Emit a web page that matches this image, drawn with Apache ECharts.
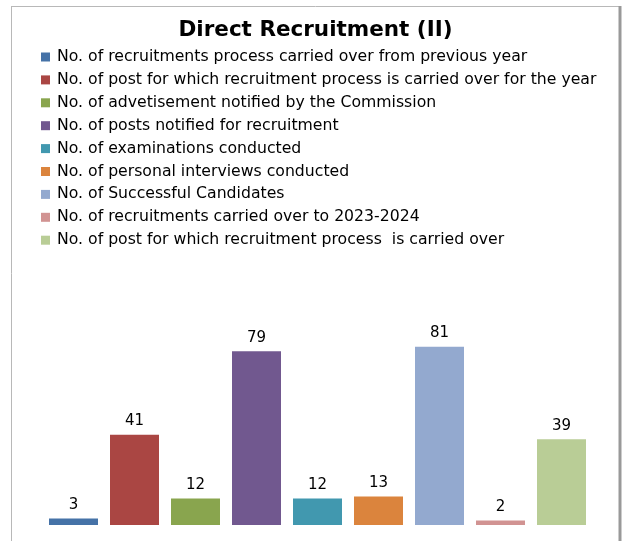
<!DOCTYPE html>
<html>
<head>
<meta charset="utf-8">
<script src="https://cdn.jsdelivr.net/npm/echarts@6/dist/echarts.min.js"></script>
<style>
  html, body { margin: 0; padding: 0; background: #fff; }
  #chart { width: 631px; height: 541px; }
</style>
</head>
<body>
<div id="chart"></div>
<script>
var seriesNames = [
    'No. of recruitments process carried over from previous year',
    'No. of post for which recruitment process is carried over for the year',
    'No. of advetisement notified by the Commission',
    'No. of posts notified for recruitment',
    'No. of examinations conducted',
    'No. of personal interviews conducted',
    'No. of Successful Candidates',
    'No. of recruitments carried over to 2023-2024',
    'No. of post for which recruitment process  is carried over'
];
var values = [3, 41, 12, 79, 12, 13, 81, 2, 39];
var colors = ['#4572A7', '#AA4643', '#89A54E', '#71588F', '#4198AF', '#DB843D', '#93A9CF', '#D19392', '#B9CD96'];
var slots = ['1', '2', '3', '4', '5', '6', '7', '8', '9'];

var chart = echarts.init(document.getElementById('chart'));

// one series per bar so each gets its own legend entry
var series = seriesNames.map(function (name, i) {
    var data = values.map(function (v, j) { return j === i ? v : '-'; });
    return {
        name: name,
        type: 'bar',
        stack: 'all',
        barWidth: 49,
        itemStyle: { color: colors[i] },
        label: {
            show: true,
            position: 'top',
            distance: 6,
            color: '#000',
            fontFamily: 'DejaVu Sans',
            fontSize: 15
        },
        data: data
    };
});

var option = {
    backgroundColor: '#fff',
    animation: false,
    title: {
        text: 'Direct Recruitment (II)',
        left: 'center',
        top: 14,
        textStyle: {
            fontFamily: 'DejaVu Sans',
            fontWeight: 'bold',
            fontSize: 21.5,
            color: '#000'
        }
    },
    legend: {
        orient: 'vertical',
        left: 36,
        top: 44,
        itemWidth: 9,
        itemHeight: 9,
        itemGap: 6.9,
        itemStyle: { borderWidth: 0 },
        icon: 'rect',
        selectedMode: false,
        textStyle: {
            fontFamily: 'DejaVu Sans',
            fontSize: 15.7,
            lineHeight: 15,
            padding: [0, 0, 0, 2],
            color: '#000'
        },
        data: seriesNames
    },
    grid: { left: 43, right: 39, top: 305, bottom: 16 },
    xAxis: {
        type: 'category',
        data: slots,
        show: false
    },
    yAxis: {
        type: 'value',
        min: 0,
        max: 100,
        show: false
    },
    graphic: [
        { type: 'line', shape: { x1: 11.5, y1: 6, x2: 11.5, y2: 541 }, style: { stroke: '#b8b8b8', lineWidth: 1 } },
        { type: 'line', shape: { x1: 11, y1: 6.5, x2: 620, y2: 6.5 }, style: { stroke: '#b8b8b8', lineWidth: 1 } },
        { type: 'line', shape: { x1: 620, y1: 6, x2: 620, y2: 541 }, style: { stroke: '#999', lineWidth: 3 } }
    ],
    series: series
};

chart.setOption(option);
</script>
</body>
</html>
